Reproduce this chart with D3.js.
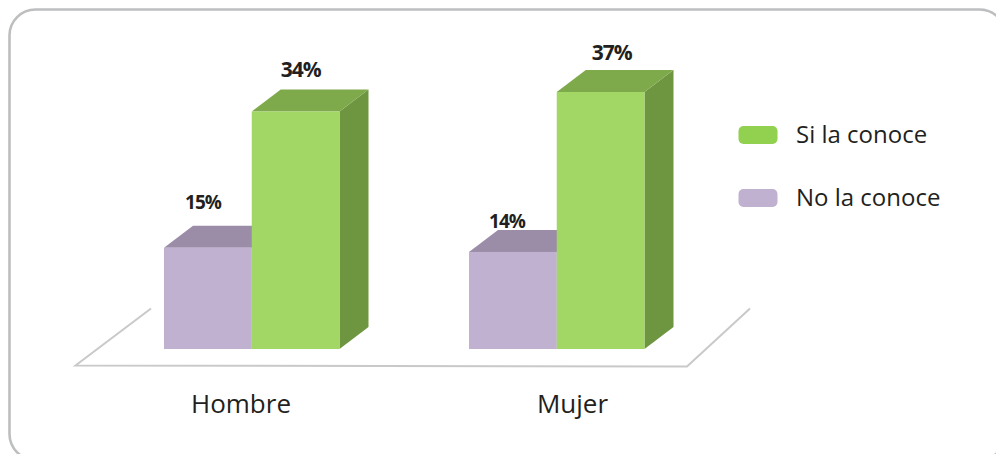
<!DOCTYPE html>
<html><head><meta charset="utf-8">
<script src="https://cdnjs.cloudflare.com/ajax/libs/d3/7.8.5/d3.min.js"></script>
<style>html,body{margin:0;padding:0;background:#fff;overflow:hidden}svg{display:block}</style>
</head><body><svg id="c" width="996" height="454"></svg>
<script>
const categories = ["Hombre", "Mujer"];
const seriesNames = ["No la conoce", "Si la conoce"];
const noLaConoce = [14.5, 13.9];
const siLaConoce = [34, 36.8];
const noLabels = ["15%", "14%"];
const siLabels = ["34%", "37%"];
const legendOrder = ["Si la conoce", "No la conoce"];

const front = {"No la conoce":"#bfb1cf","Si la conoce":"#a2d665"};
const top_  = {"No la conoce":"#9b8ca8","Si la conoce":"#7eaa4b"};
const side  = {"No la conoce":"#8a7c98","Si la conoce":"#6e953f"};
const legendCol = {"Si la conoce":"#92d050","No la conoce":"#bfb1cf"};

const svg = d3.select("#c");
const font = "'Open Sans','Noto Sans',sans-serif";
const groupX = d3.scaleOrdinal().domain(categories).range([164,469]);
const inner = d3.scaleBand().domain(seriesNames).range([0,175.5]);
const y = d3.scaleLinear().domain([0,36.8]).range([349,92]);
const dx = 29, dy = -22;

svg.append("rect").attr("x",9.5).attr("y",9.5).attr("width",996).attr("height",450.5).attr("rx",26)
  .attr("fill","none").attr("stroke","#bcbec0").attr("stroke-width",2.6);

svg.append("path").attr("d","M151,308.5 L75.5,365.5 L687,366.5 L750,308.5")
  .attr("fill","none").attr("stroke","#c9c9c9").attr("stroke-width",2);

const rows = [];
categories.forEach((c,i)=>{
  rows.push({c,s:seriesNames[0],v:noLaConoce[i],l:noLabels[i]});
  rows.push({c,s:seriesNames[1],v:siLaConoce[i],l:siLabels[i]});
});
rows.forEach(d=>{
  const x0 = groupX(d.c)+inner(d.s), w = inner.bandwidth(), yt = y(d.v), yb = y(0);
  const b = svg.append("g");
  b.append("path").attr("fill",side[d.s])
    .attr("d",d3.line()([[x0+w,yt],[x0+w+dx,yt+dy],[x0+w+dx,yb+dy],[x0+w,yb]]));
  b.append("path").attr("fill",top_[d.s])
    .attr("d",d3.line()([[x0,yt],[x0+dx,yt+dy],[x0+w+dx,yt+dy],[x0+w,yt]]));
  b.append("rect").attr("x",x0).attr("y",yt).attr("width",w).attr("height",yb-yt).attr("fill",front[d.s]);
});
const labelDx = {"Hombre|No la conoce":39,"Hombre|Si la conoce":49,"Mujer|No la conoce":38,"Mujer|Si la conoce":55};
const labelGap = {"Hombre|No la conoce":39,"Hombre|Si la conoce":35,"Mujer|No la conoce":24,"Mujer|Si la conoce":32.5};
rows.forEach(d=>{
  const k = d.c+"|"+d.s;
  svg.append("text").attr("x",groupX(d.c)+inner(d.s)+labelDx[k]).attr("y",y(d.v)-labelGap[k])
    .attr("text-anchor","middle").attr("font-family",font).attr("font-weight",700)
    .attr("font-size",d.s==="Si la conoce"?21:19).attr("letter-spacing",-1).attr("fill","#231f20").text(d.l);
});
categories.forEach(c=>{
  svg.append("text").attr("x",c==="Hombre"?241:572.5).attr("y",413).attr("text-anchor","middle")
   .attr("font-family",font).attr("font-size",26).attr("fill","#231f20").text(c);
});
legendOrder.forEach((s,i)=>{
  const yy = 126+63*i;
  svg.append("rect").attr("x",738.5).attr("y",yy).attr("width",39).attr("height",18).attr("rx",5).attr("fill",legendCol[s]);
  svg.append("text").attr("x",796).attr("y",yy+16.5).attr("font-family",font).attr("font-size",24).attr("fill","#231f20").text(s);
});
</script></body></html>
